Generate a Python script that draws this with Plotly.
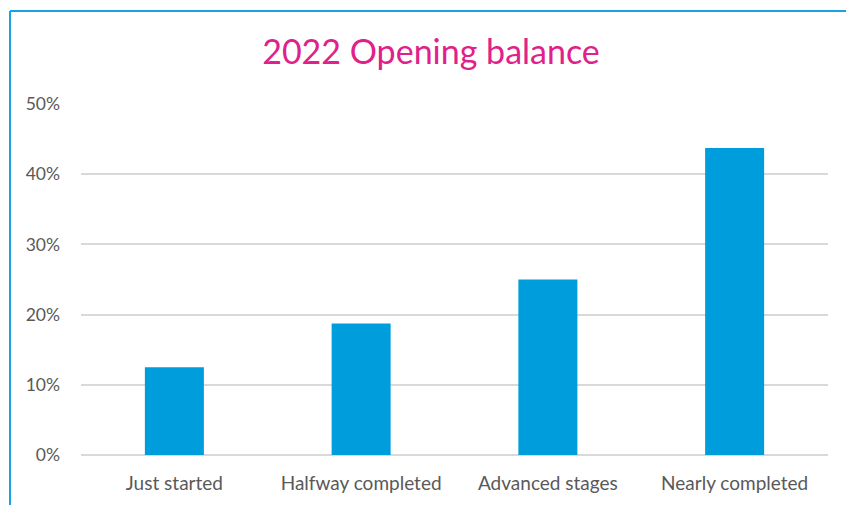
import plotly.graph_objects as go

categories = ["Just started", "Halfway completed", "Advanced stages", "Nearly completed"]
values = [0.125, 0.1875, 0.25, 0.4375]
tick_vals = [0, 0.1, 0.2, 0.3, 0.4, 0.5]
tick_text = ["0%", "10%", "20%", "30%", "40%", "50%"]
title_text = "2022 Opening balance"

W, H = 846, 505
L, R, T, B = 81, 18, 104, 50

fig = go.Figure(go.Bar(
    x=categories, y=values,
    marker=dict(color="#009ddc", line=dict(width=0)),
))

pw = W - L - R
ph = H - T - B
fig.update_layout(
    width=W, height=H,
    margin=dict(l=L, r=R, t=T, b=B, pad=0),
    paper_bgcolor="white", plot_bgcolor="white",
    font=dict(family="Lato, Carlito, 'Open Sans', sans-serif", color="#595959", size=17),
    bargap=0.684,
    showlegend=False,
    title=dict(text=title_text, x=431 / W, xref="container",
               xanchor="center", y=1 - 52 / H, yanchor="middle",
               font=dict(size=34, color="#e0218a")),
    xaxis=dict(showgrid=False, showline=False, ticks="", ticklabelstandoff=15,
               tickfont=dict(size=19, color="#595959")),
    yaxis=dict(range=[0, 0.5], tickvals=tick_vals, ticktext=tick_text,
               showgrid=True, gridcolor="#d9d9d9", gridwidth=1.5,
               zeroline=True, zerolinecolor="#d9d9d9", zerolinewidth=1.5,
               showline=False, ticks="", ticklabelstandoff=20,
               tickfont=dict(size=17.5, color="#595959")),
    shapes=[
        dict(type="line", xref="paper", yref="paper",
             x0=(10 - L) / pw, x1=(10 - L) / pw,
             y0=(H - B - 520) / ph, y1=(H - B - 11) / ph,
             line=dict(color="#1aa3e2", width=2)),
        dict(type="line", xref="paper", yref="paper",
             x0=(10 - L) / pw, x1=(860 - L) / pw,
             y0=(H - B - 11) / ph, y1=(H - B - 11) / ph,
             line=dict(color="#1aa3e2", width=2)),
    ],
)

fig.write_html("out.html", config={"displayModeBar": False},
               post_script="document.body.style.margin='0';document.body.style.overflow='hidden';")
